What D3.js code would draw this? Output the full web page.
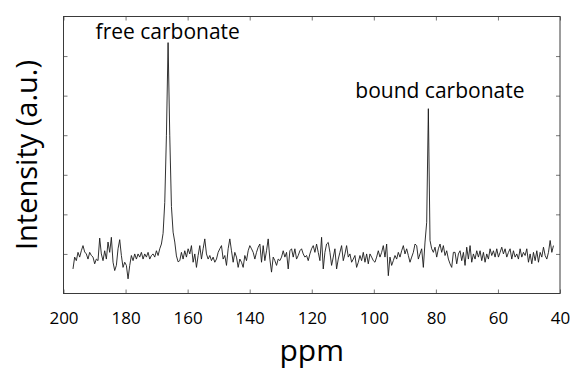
<!DOCTYPE html>
<html>
<head>
<meta charset="utf-8">
<script src="https://cdn.jsdelivr.net/npm/d3@7"></script>
<style>
  html, body { margin: 0; padding: 0; background: #fff; }
  svg { display: block; font-family: "Open Sans", "Noto Sans", sans-serif; }
</style>
</head>
<body>
<script>
// spectrum sampled evenly from ppmStart down to ppmEnd
const ppmStart = 196.94;
const ppmEnd = 42.1;

// intensity (a.u.), baseline at 0
const intensity = [
  -0.38, -0.08, -0.17, 0.04, -0.08, 0.08, 0.21, 0.05, 0.00, -0.13,
  0.04, -0.04, -0.08, -0.25, -0.13, -0.17, 0.40, 0.00, -0.17, 0.08,
  -0.13, 0.30, 0.04, 0.42, -0.21, -0.42, -0.29, 0.13, 0.36, -0.04,
  -0.34, -0.21, -0.29, -0.63, -0.29, -0.04, -0.17, 0.00, -0.13, 0.00,
  -0.08, 0.04, -0.13, 0.00, -0.08, 0.04, -0.13, -0.04, 0.00, -0.08,
  0.08, -0.04, 0.13, 0.25,
  // free carbonate
  0.52, 1.3, 3.0, 5.34, 3.0, 1.2, 0.55, 0.30, -0.05,
  -0.20, -0.17, 0.04, -0.13, 0.08, -0.08, 0.13, 0.00, 0.21, -0.21,
  0.00, -0.34, -0.04, 0.21, -0.13, 0.13, 0.38, 0.00, -0.13, -0.04,
  -0.17, -0.08, -0.21, -0.13, 0.04, 0.13, 0.21, -0.13, -0.04, -0.29,
  0.13, 0.38, 0.08, -0.21, 0.04, -0.08, -0.34, -0.13, -0.21, -0.34,
  -0.04, -0.17, 0.08, 0.21, 0.13, 0.04, -0.13, 0.04, 0.17, 0.25,
  -0.21, 0.21, -0.17, 0.08, 0.38, -0.13, -0.46, -0.08, -0.17, -0.29,
  -0.13, -0.17, -0.08, 0.08, -0.08, 0.04, -0.38, 0.08, 0.13, -0.08,
  0.13, -0.13, -0.04, 0.08, 0.13, 0.00, -0.08, -0.04, -0.17, 0.00,
  0.13, 0.21, 0.04, 0.25, 0.04, -0.17, 0.42, -0.38, 0.04, 0.25,
  0.29, 0.04, -0.29, -0.08, 0.13, -0.38, -0.13, 0.04, 0.21, -0.17,
  0.00, 0.21, -0.08, 0.00, -0.21, -0.13, -0.04, -0.34,
  -0.21, -0.04, -0.17, 0.04, -0.21, 0.00, -0.25, 0.00, -0.08, -0.17,
  -0.21, -0.08, 0.08, -0.08, 0.04, 0.21, -0.08, 0.25, -0.55, -0.08,
  -0.29, -0.17, -0.04, -0.13, 0.04, -0.08, 0.08, 0.21, 0.00, 0.13,
  -0.04, -0.21, -0.08, 0.04, 0.25, 0.21, -0.13, 0.00, 0.13, -0.34,
  // bound carbonate
  0.30, 0.80, 3.67, 0.34,
  0.13, 0.04, 0.17, -0.08, 0.13, 0.25, 0.04, 0.21, -0.04, 0.08,
  -0.13, -0.25, -0.34, 0.04,
  0.04, -0.25, 0.00, 0.08, -0.17, 0.04, -0.29, 0.17, -0.13, 0.21,
  -0.21, 0.00, -0.13, 0.08, -0.08, 0.08, -0.17, 0.04, -0.21, 0.00,
  -0.13, 0.13, -0.04, 0.08, -0.08, 0.13, -0.08, 0.04, 0.17, 0.00,
  0.13, -0.08, 0.04, 0.13, -0.13, 0.08, -0.08, 0.00, -0.13, 0.13,
  -0.08, 0.04, -0.04, 0.13, -0.21, 0.00, -0.25, 0.04, -0.17, 0.08,
  -0.21, 0.04, -0.08, 0.17, -0.04, -0.13, 0.04, 0.34, 0.04, 0.21
];

const xTicks = [200, 180, 160, 140, 120, 100, 80, 60, 40];
const yTicks = [0, 1, 2, 3, 4, 5];

const peakLabels = [
  { text: "free carbonate", ppm: 166.4, value: 5.42 },
  { text: "bound carbonate", ppm: 78.7, value: 3.93 }
];

const width = 573;
const height = 372;
const margin = { top: 16.5, right: 13, bottom: 78.5, left: 63.5 };

const points = intensity.map((v, i) => ({
  ppm: ppmStart + (ppmEnd - ppmStart) * i / (intensity.length - 1),
  v: v
}));

const x = d3.scaleLinear()
    .domain([200, 40])
    .range([margin.left, width - margin.right]);

const y = d3.scaleLinear()
    .domain([-1, 6])
    .range([height - margin.bottom, margin.top]);

const svg = d3.select("body").append("svg")
    .attr("width", width)
    .attr("height", height);

// inward ticks on all four sides
const tickColor = "#777";

const gBottom = svg.append("g")
    .attr("transform", `translate(0,${y(-1)})`)
    .call(d3.axisBottom(x).tickValues(xTicks).tickSizeInner(-4).tickSizeOuter(0).tickPadding(18));
const gTop = svg.append("g")
    .attr("transform", `translate(0,${y(6)})`)
    .call(d3.axisTop(x).tickValues(xTicks).tickSizeInner(-4).tickSizeOuter(0).tickFormat(""));
const gLeft = svg.append("g")
    .attr("transform", `translate(${x(200)},0)`)
    .call(d3.axisLeft(y).tickValues(yTicks).tickSizeInner(-4).tickSizeOuter(0).tickFormat(""));
const gRight = svg.append("g")
    .attr("transform", `translate(${x(40)},0)`)
    .call(d3.axisRight(y).tickValues(yTicks).tickSizeInner(-4).tickSizeOuter(0).tickFormat(""));

[gBottom, gTop, gLeft, gRight].forEach(g => {
  g.select(".domain").remove();
  g.selectAll(".tick line").attr("stroke", tickColor);
});

gBottom.selectAll(".tick text")
    .attr("fill", "#000")
    .style("font-size", "17px")
    .style("font-family", "'Open Sans', 'Noto Sans', sans-serif");

// frame
svg.append("rect")
    .attr("x", x(200))
    .attr("y", y(6))
    .attr("width", x(40) - x(200))
    .attr("height", y(-1) - y(6))
    .attr("fill", "none")
    .attr("stroke", "#3a3a3a")
    .attr("stroke-width", 1);

// spectrum
svg.append("path")
    .datum(points)
    .attr("fill", "none")
    .attr("stroke", "#1a1a1a")
    .attr("stroke-width", 0.9)
    .attr("stroke-linejoin", "round")
    .attr("d", d3.line().x(d => x(d.ppm)).y(d => y(d.v)));

// peak labels
svg.append("g")
    .selectAll("text")
    .data(peakLabels)
    .join("text")
    .attr("x", d => x(d.ppm))
    .attr("y", d => y(d.value))
    .attr("text-anchor", "middle")
    .style("font-size", "21px")
    .attr("fill", "#000")
    .text(d => d.text);

// axis titles
svg.append("text")
    .attr("x", (x(200) + x(40)) / 2)
    .attr("y", 361)
    .attr("text-anchor", "middle")
    .style("font-size", "30px")
    .attr("fill", "#000")
    .text("ppm");

svg.append("text")
    .attr("transform", `translate(37,${(y(-1) + y(6)) / 2}) rotate(-90)`)
    .attr("text-anchor", "middle")
    .style("font-size", "29px")
    .attr("fill", "#000")
    .text("Intensity (a.u.)");
</script>
</body>
</html>
